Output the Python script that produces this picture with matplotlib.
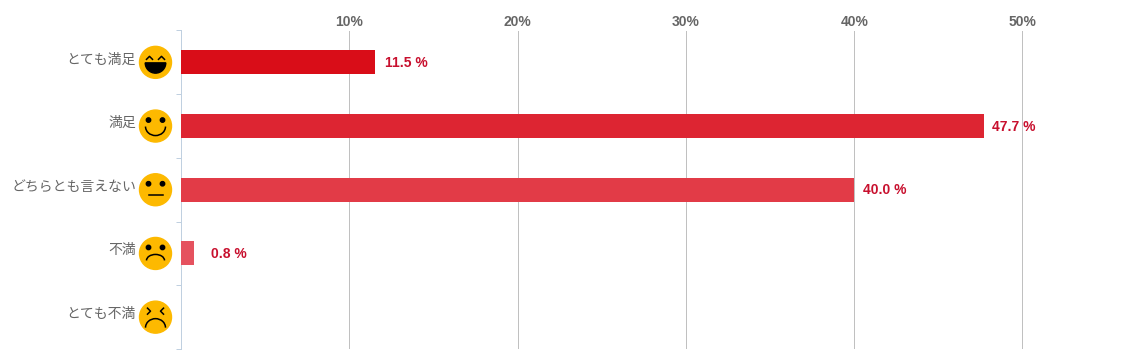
import matplotlib
matplotlib.use("Agg")
import matplotlib.pyplot as plt
from matplotlib.patches import Arc, Circle, Wedge

categories = ["とても満足", "満足", "どちらとも言えない", "不満", "とても不満"]
values = [11.5, 47.7, 40.0, 0.8, 0.0]
value_labels = ["11.5 %", "47.7 %", "40.0 %", "0.8 %", ""]
x_ticks = [10, 20, 30, 40, 50]
x_tick_labels = ["10%", "20%", "30%", "40%", "50%"]
bar_colors = ["#d90d18", "#dd2532", "#e23b47", "#e5525f", "#e96a75"]
faces = ["laugh", "smile", "neutral", "frown", "cry"]

W, H = 1123, 363
X0, PX_PER_PCT = 181, 16.83
TOP, BOTTOM = 30.5, 349
LABEL_FONT = ["Noto Sans CJK JP", "DejaVu Sans"]

fig = plt.figure(figsize=(W / 100, H / 100), dpi=100, facecolor="white")
ax = fig.add_axes([X0 / W, 1 - BOTTOM / H, (W - X0) / W, (BOTTOM - TOP) / H])

y = list(range(len(categories)))
ax.barh(y, values, height=0.378, color=bar_colors, zorder=3)
ax.set_xlim(0, (W - X0) / PX_PER_PCT)
ax.set_ylim(len(categories) - 0.5, -0.5)

ax.xaxis.tick_top()
ax.set_xticks(x_ticks)
ax.set_xticklabels(x_tick_labels, fontfamily="Liberation Sans", fontweight="bold", fontsize=10, color="#666666")
ax.tick_params(axis="x", length=0, pad=1)
ax.grid(axis="x", color="#c0c0c0", linewidth=0.72, zorder=1)

# category separators, labels are placed by hand below
ax.set_yticks([i - 0.5 for i in range(len(categories) + 1)])
ax.set_yticklabels([])
ax.tick_params(axis="y", length=3.6, width=0.72, color="#c0d0e0")

for side in ["top", "right", "bottom"]:
    ax.spines[side].set_visible(False)
ax.spines["left"].set_color("#c0d0e0")
ax.spines["left"].set_linewidth(0.72)

label_pads = [10, 8, 8.5, 16.5, 0]
for i, v in enumerate(values):
    if value_labels[i]:
        ax.annotate(value_labels[i], (v, i), xytext=(label_pads[i] * 0.72, -0.5), textcoords="offset points",
                    va="center", ha="left", fontfamily="Liberation Sans", fontweight="bold",
                    fontsize=10, color="#c8102e", zorder=5)

# overlay in pixel coordinates for the smileys and the category text
ov = fig.add_axes([0, 0, 1, 1])
ov.set_xlim(0, W)
ov.set_ylim(H, 0)
ov.axis("off")
ov.patch.set_alpha(0)

step = (BOTTOM - TOP) / len(categories)


def eyes(cx, cy):
    ov.add_patch(Circle((cx - 7, cy - 6), 2.2, color="black", zorder=5))
    ov.add_patch(Circle((cx + 7, cy - 6), 2.2, color="black", zorder=5))


for i, (name, face) in enumerate(zip(categories, faces)):
    cy = TOP + step * (i + 0.5)
    cx = 155.5
    ov.text(136, cy - 3, name, ha="right", va="center", fontfamily=LABEL_FONT, fontsize=10, color="#666666")
    ov.add_patch(Circle((cx, cy), 16, color="#fdb900", zorder=4))
    if face == "laugh":
        ov.plot([cx - 9, cx - 6, cx - 3], [cy - 3, cy - 6, cy - 3], color="black", lw=1.1, zorder=5)
        ov.plot([cx + 3, cx + 6, cx + 9], [cy - 3, cy - 6, cy - 3], color="black", lw=1.1, zorder=5)
        ov.add_patch(Wedge((cx, cy + 0.5), 10.3, 0, 180, color="black", zorder=5))
    elif face == "smile":
        eyes(cx, cy)
        ov.add_patch(Arc((cx, cy + 0.5), 20, 18, theta1=0, theta2=180, color="black", lw=1.1, zorder=5))
    elif face == "neutral":
        eyes(cx, cy)
        ov.plot([cx - 7, cx + 7], [cy + 5.5, cy + 5.5], color="black", lw=1.1, zorder=5)
    elif face == "frown":
        eyes(cx, cy)
        ov.add_patch(Arc((cx, cy + 7), 18, 12, theta1=180, theta2=360, color="black", lw=1.1, zorder=5))
    else:
        ov.plot([cx - 8, cx - 5, cx - 8], [cy - 9, cy - 6, cy - 3], color="black", lw=1.1, zorder=5)
        ov.plot([cx + 8, cx + 5, cx + 8], [cy - 9, cy - 6, cy - 3], color="black", lw=1.1, zorder=5)
        ov.add_patch(Arc((cx, cy + 10.5), 20, 18, theta1=180, theta2=360, color="black", lw=1.1, zorder=5))

fig.savefig("out.png", dpi=100)
